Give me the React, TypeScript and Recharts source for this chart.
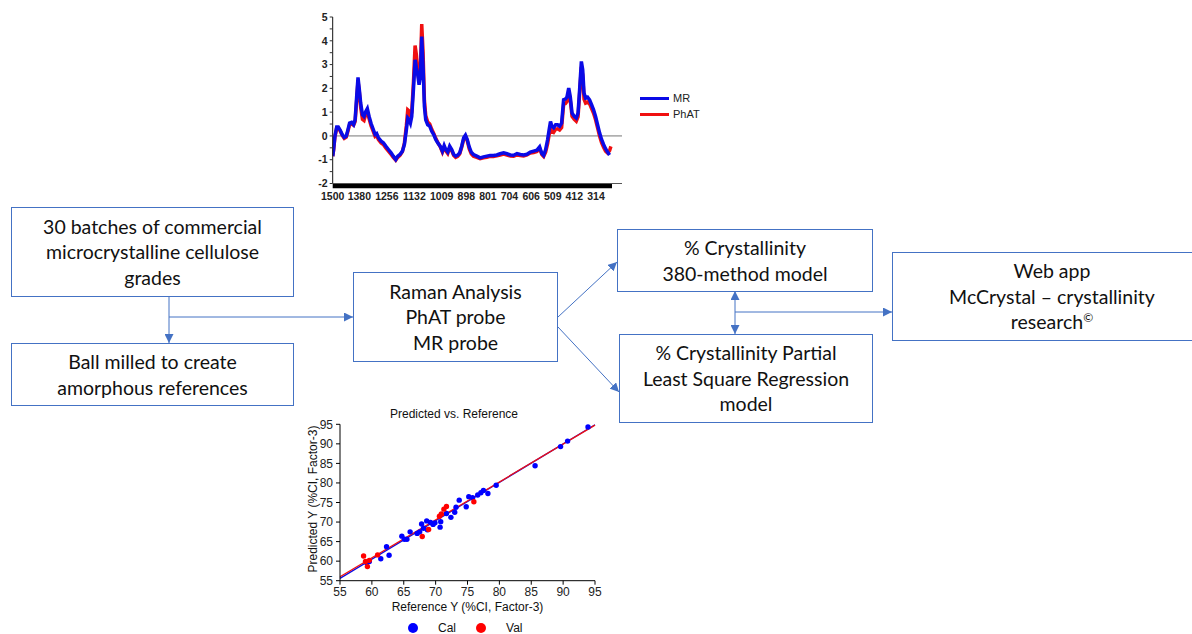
import React from "react";
import {
  LineChart,
  Line,
  XAxis,
  YAxis,
  ReferenceLine,
  ReferenceArea,
  ScatterChart,
  Scatter,
} from "recharts";

// Raman spectra (difference spectra)
const wavenumbers = [
  1500, 1496, 1490, 1482, 1475, 1466, 1457, 1448, 1439, 1433, 1424, 1415, 1406, 1399, 1392, 1386, 1380, 1374,
  1366, 1359, 1351, 1344, 1336, 1327, 1317, 1309, 1302, 1294, 1282, 1272, 1261, 1249, 1237, 1227, 1216, 1207,
  1197, 1186, 1177, 1168, 1162, 1156, 1150, 1144, 1136, 1129, 1123, 1117, 1111, 1105, 1099, 1093, 1087, 1081,
  1072, 1063, 1054, 1045, 1036, 1027, 1016, 1006, 998, 991, 982, 973, 964, 955, 946, 937, 928, 919, 910, 902,
  894, 885, 876, 866, 851, 836, 821, 806, 791, 776, 761, 746, 730, 715, 700, 685, 670, 655, 640, 625, 610, 595,
  580, 568, 558, 550, 541, 532, 525, 519, 513, 505, 496, 487, 478, 469, 460, 452, 445, 437, 430, 422, 412, 403,
  395, 388, 380, 374, 368, 361, 352, 343, 334, 325, 316, 307, 298, 289, 280, 271, 262, 253, 247,
];
const mrSignal = [
  -0.85, -0.57, -0.01, 0.38, 0.38, 0.24, 0.06, -0.06, -0.01, 0.2, 0.54, 0.57, 0.47, 0.68, 1.66, 2.46, 1.94, 1.38,
  0.89, 0.82, 1.03, 1.15, 0.82, 0.52, 0.27, 0.06, 0.1, -0.08, -0.22, -0.29, -0.43, -0.57, -0.71, -0.85, -0.99, -0.85,
  -0.78, -0.64, -0.36, 0.27, 0.75, 0.68, 0.54, 0.82, 2.01, 3.2, 2.85, 2.57, 2.15, 2.5, 4.18, 2.92, 1.24, 0.68,
  0.47, 0.41, 0.2, 0.06, -0.15, -0.29, -0.43, -0.64, -0.41, -0.57, -0.68, -0.43, -0.57, -0.78, -0.85, -0.81, -0.71, -0.43, -0.08, 0.03,
  -0.15, -0.46, -0.68, -0.78, -0.85, -0.92, -0.88, -0.85, -0.82, -0.82, -0.8, -0.75, -0.71, -0.75, -0.8, -0.81, -0.74, -0.78, -0.8, -0.77, -0.68, -0.64,
  -0.6, -0.46, -0.74, -0.82, -0.57, -0.15, 0.27, 0.61, 0.41, 0.34, 0.47, 0.47, 0.41, 0.54, 1.52, 1.55, 1.63, 2.01, 1.66, 0.96, 0.82, 0.75,
  0.96, 1.94, 3.13, 2.78, 1.8, 1.59, 1.63, 1.52, 1.31, 1.1, 0.82, 0.47, 0.13, -0.15, -0.36, -0.54, -0.68, -0.8, null,
];
const phatSignal = [
  -0.85, -0.6, -0.05, 0.33, 0.34, 0.2, 0.02, -0.1, -0.05, 0.14, 0.47, 0.5, 0.45, 0.6, 1.5, 2.3, 1.85, 1.2,
  0.7, 0.65, 0.92, 1.02, 0.72, 0.42, 0.18, -0.02, 0.02, -0.15, -0.3, -0.36, -0.5, -0.64, -0.78, -0.9, -1.02, -0.9,
  -0.82, -0.66, -0.3, 0.45, 1.1, 1.05, 0.8, 1.0, 2.3, 3.8, 3.4, 2.75, 2.3, 2.8, 4.7, 3.5, 1.5, 0.85,
  0.58, 0.5, 0.28, 0.1, -0.1, -0.27, -0.45, -0.68, -0.48, -0.62, -0.74, -0.5, -0.62, -0.82, -0.9, -0.86, -0.76, -0.48, -0.14, -0.04,
  -0.2, -0.55, -0.75, -0.85, -0.9, -0.96, -0.92, -0.9, -0.86, -0.86, -0.84, -0.8, -0.76, -0.8, -0.84, -0.85, -0.8, -0.82, -0.84, -0.8, -0.72, -0.7,
  -0.65, -0.52, -0.78, -0.86, -0.68, -0.32, 0.06, 0.3, 0.2, 0.15, 0.28, 0.3, 0.25, 0.35, 1.32, 1.36, 1.45, 1.8, 1.5, 0.82, 0.7, 0.62,
  0.8, 1.75, 2.9, 2.55, 1.55, 1.38, 1.42, 1.35, 1.15, 0.95, 0.68, 0.34, 0.0, -0.28, -0.48, -0.64, -0.72, -0.62, -0.44,
];
const wavenumberTicks = [1500, 1380, 1256, 1132, 1009, 898, 801, 704, 606, 509, 412, 314];
const intensityTicks = [-2, -1.5, -1, -0.5, 0, 0.5, 1, 1.5, 2, 2.5, 3, 3.5, 4, 4.5, 5];

// PLS predicted vs reference
const calReference = [
  93.9, 90.7, 89.6, 85.6, 79.5, 78.2, 77.5, 77.1, 76.6, 75.2, 75.8, 73.7, 74.8, 73.2, 73.0, 72.4, 71.7, 70.8,
  70.7, 69.9, 69.2, 68.6, 67.8, 68.7, 68.1, 67.5, 67.1, 66.0, 65.5, 65.1, 64.7, 62.3, 62.7, 61.4, 59.6, 59.2, 69.6,
];
const calPredicted = [
  94.3, 90.7, 89.3, 84.4, 79.4, 77.3, 78.1, 77.5, 76.9, 76.5, 76.2, 75.6, 73.9, 73.8, 72.5, 71.2, 72.2, 70.1,
  68.7, 69.8, 69.9, 70.3, 69.5, 68.0, 68.4, 67.5, 67.1, 67.5, 65.6, 65.6, 66.4, 63.7, 61.5, 60.6, 59.9, 59.6, 69.4,
];
const valReference = [58.7, 59.0, 59.3, 59.6, 60.9, 67.9, 68.9, 70.6, 70.9, 71.3, 71.7, 76.0];
const valPredicted = [61.3, 59.9, 58.6, 60.2, 61.6, 66.3, 68.1, 71.5, 72.1, 73.3, 74.0, 75.2];
const fitTicks = [55, 60, 65, 70, 75, 80, 85, 90, 95];
const calFit = [{ x: 55, y: 55.6 }, { x: 95, y: 94.9 }];
const valFit = [{ x: 55, y: 56.0 }, { x: 95, y: 94.8 }];

const BLUE = "#0a0ae6";
const RED = "#f01010";
const BOX = "#4472c4";
const ARIAL = "'Liberation Sans', Arial, sans-serif";

function Box({ x, y, w, h, lines }: { x: number; y: number; w: number; h: number; lines: React.ReactNode[] }) {
  return (
    <div
      style={{
        position: "absolute",
        left: x,
        top: y,
        width: w,
        height: h,
        border: `1px solid ${BOX}`,
        boxSizing: "border-box",
        display: "flex",
        flexDirection: "column",
        justifyContent: "center",
        alignItems: "center",
        fontFamily: "Lato, 'Open Sans', sans-serif",
        fontSize: 19.5,
        lineHeight: "25.5px",
        color: "#111",
        textAlign: "center",
        background: "#fff",
        whiteSpace: "nowrap",
      }}
    >
      {lines.map((l, i) => (
        <div key={i}>{l}</div>
      ))}
    </div>
  );
}

function SpectrumChart() {
  const data = wavenumbers.map((w, i) => ({ w, mr: mrSignal[i], phat: phatSignal[i] }));
  const tickStyle = { fontSize: 10.5, fontWeight: 700, fill: "#222", fontFamily: ARIAL };
  return (
    <div style={{ position: "absolute", left: 290, top: 0 }}>
      <LineChart width={420} height={210} data={data} margin={{ top: 17, right: 88, left: 12, bottom: 6.5 }}>
        <XAxis
          type="number"
          dataKey="w"
          domain={[197, 1500]}
          reversed
          allowDataOverflow
          ticks={wavenumberTicks}
          interval={0}
          height={20}
          tickSize={0}
          tickMargin={9}
          tick={tickStyle}
          axisLine={{ stroke: "#555" }}
        />
        <YAxis
          type="number"
          domain={[-2, 5]}
          ticks={intensityTicks}
          interval={0}
          width={30.7}
          tickSize={3}
          tickMargin={2}
          tickFormatter={(v: number) => (Number.isInteger(v) ? String(v) : "")}
          tick={tickStyle}
          tickLine={{ stroke: "#333" }}
          axisLine={{ stroke: "#111" }}
        />
        <ReferenceArea x1={1500} x2={242} y1={-2.2} y2={-2} fill="#000" fillOpacity={1} stroke="none" ifOverflow="visible" />
        <ReferenceLine y={0} stroke="#777" strokeWidth={1} />
        <Line dataKey="phat" stroke={RED} strokeWidth={3.5} dot={false} isAnimationActive={false} />
        <Line dataKey="mr" stroke={BLUE} strokeWidth={3.5} dot={false} isAnimationActive={false} />
      </LineChart>
      <div style={{ position: "absolute", left: 350, top: 90, fontFamily: ARIAL, fontSize: 11, color: "#222" }}>
        {[
          { name: "MR", color: BLUE },
          { name: "PhAT", color: RED },
        ].map((s) => (
          <div key={s.name} style={{ display: "flex", alignItems: "center", height: 16 }}>
            <span style={{ display: "inline-block", width: 29, height: 3, background: s.color, marginRight: 4 }} />
            {s.name}
          </div>
        ))}
      </div>
    </div>
  );
}

function FitChart() {
  const cal = calReference.map((x, i) => ({ x, y: calPredicted[i] }));
  const val = valReference.map((x, i) => ({ x, y: valPredicted[i] }));
  const tickStyle = { fontSize: 12, fill: "#222", fontFamily: ARIAL };
  return (
    <div style={{ position: "absolute", left: 290, top: 400 }}>
      <ScatterChart width={320} height={234} margin={{ top: 24.3, right: 15, left: 20, bottom: 33.3 }}>
        <XAxis
          type="number"
          dataKey="x"
          domain={[55, 95]}
          ticks={fitTicks}
          interval={0}
          height={20}
          tickSize={4}
          tickMargin={3}
          tick={tickStyle}
          axisLine={{ stroke: "#000" }}
          tickLine={{ stroke: "#000" }}
        />
        <YAxis
          type="number"
          dataKey="y"
          domain={[55, 95]}
          ticks={fitTicks}
          interval={0}
          width={30}
          tickSize={4}
          tickMargin={3}
          tick={tickStyle}
          axisLine={{ stroke: "#000" }}
          tickLine={{ stroke: "#000" }}
        />
        <ReferenceLine segment={calFit} stroke={BLUE} strokeWidth={1.3} />
        <ReferenceLine segment={valFit} stroke={RED} strokeWidth={1.3} />
        <Scatter
          data={cal}
          isAnimationActive={false}
          shape={(p: any) => <circle cx={p.cx} cy={p.cy} r={2.7} fill="#0000ff" />}
        />
        <Scatter
          data={val}
          isAnimationActive={false}
          shape={(p: any) => <circle cx={p.cx} cy={p.cy} r={2.7} fill="#ff0000" />}
        />
      </ScatterChart>
      <div style={{ position: "absolute", left: 0, top: 7, width: 320, paddingLeft: 8, boxSizing: "border-box", textAlign: "center", fontFamily: ARIAL, fontSize: 12, color: "#111" }}>
        Predicted vs. Reference
      </div>
      <div style={{ position: "absolute", left: 50, top: 200, width: 255, textAlign: "center", fontFamily: ARIAL, fontSize: 12, color: "#111" }}>
        Reference Y (%CI, Factor-3)
      </div>
      <div
        style={{
          position: "absolute",
          left: 23 - 80,
          top: 100 - 8,
          width: 160,
          textAlign: "center",
          transform: "rotate(-90deg)",
          fontFamily: ARIAL,
          fontSize: 12,
          color: "#111",
        }}
      >
        Predicted Y (%CI, Factor-3)
      </div>
      <div style={{ position: "absolute", left: 118, top: 221, display: "flex", alignItems: "center", fontFamily: ARIAL, fontSize: 12, color: "#111" }}>
        <span style={{ width: 10, height: 10, borderRadius: 5, background: "#0000ff", display: "inline-block", marginRight: 20 }} />
        <span style={{ marginRight: 20 }}>Cal</span>
        <span style={{ width: 10, height: 10, borderRadius: 5, background: "#ff0000", display: "inline-block", marginRight: 20 }} />
        <span>Val</span>
      </div>
    </div>
  );
}

function Arrows() {
  return (
    <svg width={1192} height={634} style={{ position: "absolute", left: 0, top: 0, pointerEvents: "none" }}>
      <defs>
        <marker id="head" viewBox="0 0 10 10" refX={10} refY={5} markerWidth={9} markerHeight={9} markerUnits="userSpaceOnUse" orient="auto-start-reverse">
          <path d="M0,0 L10,5 L0,10 z" fill={BOX} />
        </marker>
      </defs>
      <g stroke={BOX} strokeWidth={1} fill="none">
        <line x1={169} y1={296} x2={169} y2={343} markerEnd="url(#head)" />
        <line x1={169} y1={317} x2={353} y2={317} markerEnd="url(#head)" />
        <line x1={558} y1={317} x2={617} y2={262} markerEnd="url(#head)" />
        <line x1={558} y1={327} x2={619} y2={392} markerEnd="url(#head)" />
        <line x1={735} y1={291} x2={735} y2={334} markerStart="url(#head)" markerEnd="url(#head)" />
        <line x1={735} y1={312} x2={892} y2={312} markerEnd="url(#head)" />
      </g>
    </svg>
  );
}

export default function App() {
  return (
    <div style={{ position: "absolute", left: 0, top: 0, width: 1192, height: 634, background: "#fff", overflow: "hidden" }}>
      <SpectrumChart />
      <Box x={11} y={207} w={283} h={90} lines={["30 batches of commercial", "microcrystalline cellulose", "grades"]} />
      <Box x={11} y={343} w={283} h={63} lines={["Ball milled to create", "amorphous references"]} />
      <Box x={353} y={272} w={205} h={90} lines={["Raman Analysis", "PhAT probe", "MR probe"]} />
      <Box x={617} y={229} w={256} h={63} lines={["% Crystallinity", "380-method model"]} />
      <Box x={619} y={334} w={254} h={89} lines={["% Crystallinity Partial", "Least Square Regression", "model"]} />
      <Box
        x={892}
        y={252}
        w={320}
        h={89}
        lines={[
          "Web app",
          "McCrystal \u2013 crystallinity",
          <span key="r">
            research<sup style={{ fontSize: 12, verticalAlign: "7px", lineHeight: 0 }}>©</sup>
          </span>,
        ]}
      />
      <FitChart />
      <Arrows />
    </div>
  );
}
